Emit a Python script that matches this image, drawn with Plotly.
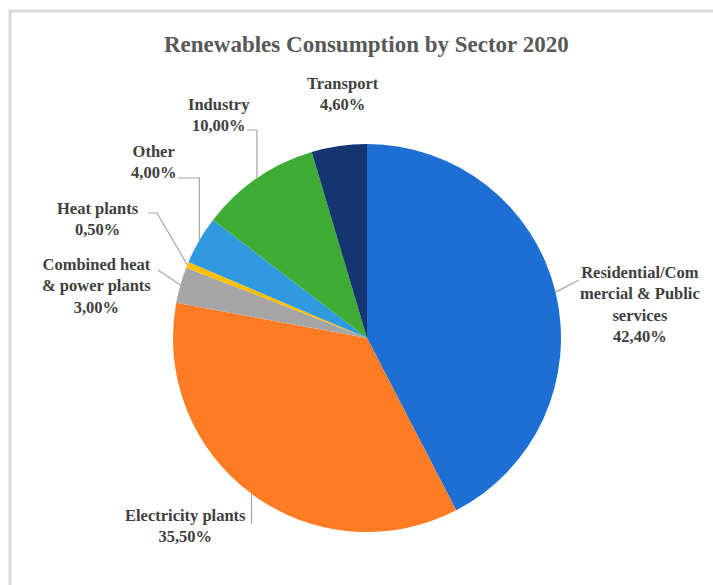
import math
import plotly.graph_objects as go

# Renewables consumption shares by sector, 2020 (percent)
sectors = [
    "Residential/Commercial & Public services",
    "Electricity plants",
    "Combined heat & power plants",
    "Heat plants",
    "Other",
    "Industry",
    "Transport",
]
shares = [42.4, 35.5, 3.0, 0.5, 4.0, 10.0, 4.6]
label_lines = [
    ["Residential/Com", "mercial & Public", "services"],
    ["Electricity plants"],
    ["Combined heat", "& power plants"],
    ["Heat plants"],
    ["Other"],
    ["Industry"],
    ["Transport"],
]
colors = ["#1e6fd3", "#ff7b24", "#a5a5a5", "#ffc000", "#2f9ae0", "#3fac35", "#14356f"]

W, H = 713, 585
CX, CY, R = 367, 338, 194  # pie centre and radius in pixels


def px(x, y):
    """Pixel position -> paper coordinates (margins are zero)."""
    return x / W, 1 - y / H


def fmt(v):
    return f"{v:.2f}".replace(".", ",") + "%"


fig = go.Figure()
fig.add_trace(go.Pie(
    labels=sectors,
    values=shares,
    sort=False,
    direction="clockwise",
    rotation=0,
    marker=dict(colors=colors, line=dict(width=0)),
    textinfo="none",
    hoverinfo="label+percent",
    showlegend=False,
    domain=dict(x=[(CX - R) / W, (CX + R) / W],
                y=[(H - CY - R) / H, (H - CY + R) / H]),
))

# Label block centres (pixels) and leader-line layout per sector
label_pos = [(640, 304), (185, 526), (96, 286), (98, 219), (153, 162), (219, 115), (343, 94)]
# leader: (start x, start y, mode) ; None = no leader line
leaders = [
    (579, 280, "straight"),
    (None, 524, "vertical"),
    (158, 270, "straight"),
    (148, 213, "kink"),
    (178, 178, "elbow"),
    (247, 130, "elbow"),
    None,
]

label_font = dict(family="Liberation Serif", size=16.5, color="#404040")
total = sum(shares)
cum = 0.0
shapes = []
annotations = []
for i, v in enumerate(shares):
    mid = (cum + v / 2) / total * 2 * math.pi
    cum += v
    ex = CX + R * math.sin(mid)
    ey = CY - R * math.cos(mid)

    text = "<br>".join(f"<b>{t}</b>" for t in label_lines[i] + [fmt(v)])
    lx, ly = label_pos[i]
    ax, ay = px(lx, ly)
    annotations.append(dict(
        x=ax, y=ay, xref="paper", yref="paper", text=text, showarrow=False,
        font=label_font, align="center", xanchor="center", yanchor="middle",
    ))

    ld = leaders[i]
    if ld is None:
        continue
    sx, sy, mode = ld
    if mode == "straight":
        pts = [(sx, sy), (ex, ey)]
    elif mode == "kink":
        pts = [(sx, sy), (sx + 9, sy), (ex, ey)]
    elif mode == "vertical":
        pts = [(ex, sy), (ex, ey)]
    else:
        pts = [(sx, sy), (ex, sy), (ex, ey)]
    path = ""
    for j, (x, y) in enumerate(pts):
        qx, qy = px(x, y)
        path += ("M" if j == 0 else "L") + f"{qx},{qy} "
    shapes.append(dict(type="path", path=path.strip(), xref="paper", yref="paper",
                       line=dict(color="#a6a6a6", width=1.2)))

# Light frame around the chart area
fx0, fy0 = px(10, 11)
shapes.append(dict(type="rect", xref="paper", yref="paper",
                   x0=fx0, y0=-0.05, x1=1.05, y1=fy0,
                   line=dict(color="#d9d9d9", width=3), layer="below"))

tx, ty = px(367, 45)
annotations.append(dict(
    x=tx, y=ty, xref="paper", yref="paper", showarrow=False,
    text="<b>Renewables Consumption by Sector 2020</b>",
    font=dict(family="Liberation Serif", size=23, color="#595959"),
    xanchor="center", yanchor="middle",
))

fig.update_layout(
    width=W, height=H,
    margin=dict(l=0, r=0, t=0, b=0),
    paper_bgcolor="white",
    plot_bgcolor="white",
    shapes=shapes,
    annotations=annotations,
)

fig.write_html("out.html")
